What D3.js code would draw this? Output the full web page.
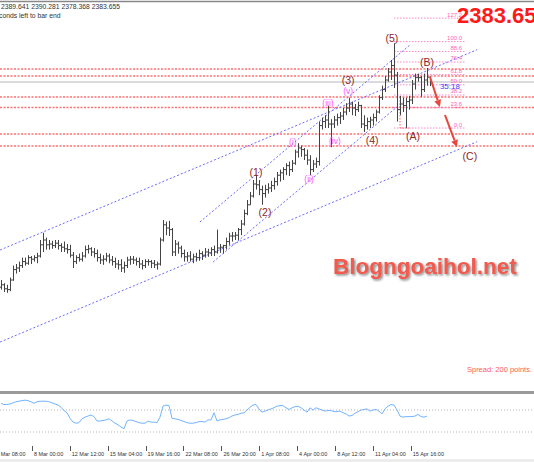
<!DOCTYPE html>
<html>
<head>
<meta charset="utf-8">
<script src="https://cdn.jsdelivr.net/npm/d3@7"></script>
<style>
  body { margin: 0; background: #fff; }
  svg { display: block; font-family: "Liberation Sans", Arial, sans-serif; }
</style>
</head>
<body>
<div id="chart"></div>
<script>
// XAUUSD H4 with elliott wave count


var firstOpen = 2127;

var highs = [
  2136,2132,2130,2139,2154,2156,2159,2164,2164,2167,
  2166,2167,2170,2186,2195,2189,2186,2185,2186,2186,
  2182,2184,2181,2180,2171,2167,2169,2171,2179,2180,
  2177,2176,2174,2169,2167,2170,2169,2166,2164,2161,
  2162,2159,2165,2166,2166,2164,2164,2161,2162,2162,
  2161,2161,2159,2189,2211,2209,2210,2201,2186,2184,
  2179,2174,2171,2172,2169,2170,2174,2172,2176,2175,
  2177,2179,2199,2181,2180,2189,2195,2196,2196,2201,
  2211,2224,2236,2246,2261,2267,2261,2254,2255,2257,
  2260,2264,2271,2274,2277,2282,2284,2286,2299,2307,
  2304,2301,2299,2292,2286,2289,2334,2339,2342,2354,
  2337,2341,2344,2346,2351,2357,2364,2359,2356,2359,
  2355,2342,2339,2340,2344,2349,2367,2379,2391,2401,
  2411,2432,2396,2366,2364,2364,2366,2386,2394,2394,
  2391,2394,2401,2390.281
];

var lows = [
  2124,2121,2120,2122,2135,2144,2146,2151,2154,2155,
  2156,2159,2157,2164,2171,2174,2174,2175,2176,2174,
  2171,2171,2169,2164,2151,2156,2159,2159,2164,2169,
  2166,2164,2159,2156,2155,2159,2157,2154,2151,2149,
  2146,2145,2151,2155,2156,2154,2151,2149,2151,2154,
  2151,2151,2149,2154,2184,2192,2191,2166,2166,2169,
  2164,2159,2159,2159,2157,2159,2160,2161,2164,2165,
  2166,2166,2169,2170,2169,2174,2180,2184,2186,2186,
  2192,2204,2217,2230,2239,2249,2242,2230,2239,2244,
  2246,2249,2254,2259,2261,2267,2266,2271,2280,2289,
  2290,2286,2280,2267,2271,2276,2279,2324,2326,2326,
  2302,2326,2329,2331,2336,2342,2346,2342,2341,2346,
  2326,2321,2324,2326,2329,2334,2344,2361,2371,2384,
  2386,2376,2334,2342,2346,2326,2349,2356,2374,2384,
  2365,2371,2379,2378.368
];

var closes = [
  2130,2125,2124,2136,2149,2151,2154,2159,2157,2164,
  2162,2164,2166,2180,2186,2180,2181,2179,2182,2179,
  2177,2175,2174,2167,2159,2164,2162,2166,2174,2175,
  2171,2169,2164,2161,2162,2166,2161,2159,2156,2155,
  2151,2154,2161,2162,2161,2159,2156,2154,2159,2159,
  2157,2155,2156,2186,2205,2201,2199,2171,2181,2176,
  2169,2165,2166,2162,2165,2164,2169,2167,2171,2170,
  2174,2171,2176,2177,2179,2184,2191,2191,2192,2199,
  2206,2219,2230,2241,2256,2255,2249,2244,2249,2251,
  2254,2259,2267,2270,2274,2279,2274,2282,2296,2301,
  2299,2292,2286,2274,2281,2284,2329,2334,2336,2331,
  2331,2336,2339,2341,2346,2351,2356,2351,2349,2354,
  2331,2329,2334,2336,2339,2346,2364,2374,2386,2396,
  2404,2392,2349,2356,2354,2359,2361,2381,2389,2389,
  2374,2386,2389.641,2383.655
];

// oscillator (one value per bar, last bar still open)
var oscValues = [
  82,80,80,81,83,85,86,87,88,87,
  85,82,85,86,86,86,85,83,81,79,
  75,69,65,55,48,46,47,54,57,59,
  61,58,50,50,51,52,54,50,46,43,
  39,36,50,52,51,49,47,46,46,50,
  48,48,47,57,77,79,78,55,54,53,
  51,49,47,46,46,47,49,49,48,52,
  52,65,50,52,53,54,56,59,61,62,
  64,65,70,75,79,80,72,66,68,70,
  72,74,77,78,78,74,71,74,76,77,
  74,70,66,74,70,74,72,70,68,69,
  69,67,67,68,65,63,59,60,64,67,
  70,71,72,68,70,71,68,63,72,77,
  80,79,70,59,57,58,58,58,59,62,
  58,57,59
];
var oscLevels = [70, 30];

var tickLabels = ["5 Mar 08:00", "8 Mar 00:00", "12 Mar 12:00", "15 Mar 04:00", "19 Mar 16:00",
  "22 Mar 08:00", "26 Mar 20:00", "1 Apr 08:00", "4 Apr 00:00", "8 Apr 12:00",
  "11 Apr 04:00", "15 Apr 16:00"];
var tickBars = [-2.3, 10.3, 22.9, 35.6, 48.2, 60.8, 73.5, 86.1, 98.7, 111.4, 124, 136.6];

// horizontal support / resistance levels
var srLevels = [2399.75, 2391, 2364.75, 2351.6, 2318.5, 2303.5];

// fibonacci from (5) high to (A) low
var fibLow = 2326, fibHigh = 2434;
var fibRatios = [0, 23.6, 38.2, 50, 61.8, 76.4, 88.6, 100, 127.2];
var fibFrom = 131, fibTo = 153.7;

// channels [bar, price, bar, price]
var channels = [
  [-0.3, 2173.5, 158.7, 2423.9],
  [-0.3, 2058.5, 158.7, 2308.9],
  [66.3, 2208.5, 136.3, 2429.75],
  [70.7, 2158.5, 134.7, 2361]
];

var waveLabels = [
  { t: "(1)", i: 85, p: 2271 },
  { t: "(2)", i: 88, p: 2220 },
  { t: "(3)", i: 115.7, p: 2386 },
  { t: "(4)", i: 123.7, p: 2310 },
  { t: "(5)", i: 130.3, p: 2438 },
  { t: "(A)", i: 137.3, p: 2315 },
  { t: "(B)", i: 142, p: 2408 },
  { t: "(C)", i: 156.3, p: 2291 }
];
var subLabels = [
  { t: "(i)", i: 97.3, p: 2308 },
  { t: "(ii)", i: 102.7, p: 2262 },
  { t: "(iii)", i: 109, p: 2357 },
  { t: "(iv)", i: 111.3, p: 2310 },
  { t: "(v)", i: 115.7, p: 2372 }
];

var arrows = [
  [143, 2389.75, 146.3, 2352.25],
  [148, 2342.25, 152, 2302.25]
];


var W = 534, H = 462;
var svg = d3.select("#chart").append("svg").attr("width", W).attr("height", H);

var x = d3.scaleLinear().domain([0, 143]).range([1, 430]);
var y = d3.scaleLinear().domain([1996, 2486]).range([392, 0]);
var yo = d3.scaleLinear().domain([30, 70]).range([432, 410]);

var defs = svg.append("defs");
defs.append("clipPath").attr("id", "main").append("rect").attr("width", W).attr("height", 391);
defs.append("clipPath").attr("id", "sub").append("rect").attr("y", 395).attr("width", W).attr("height", 50);
var shadow = defs.append("filter").attr("id", "shadow").attr("x", "-5%").attr("y", "-20%")
  .attr("width", "110%").attr("height", "150%");
shadow.append("feDropShadow").attr("dx", 1.5).attr("dy", 1.5).attr("stdDeviation", 0.8)
  .attr("flood-color", "#555").attr("flood-opacity", 0.7);

svg.append("rect").attr("width", W).attr("height", H).attr("fill", "#fff");

var main = svg.append("g").attr("clip-path", "url(#main)");

// S/R lines
main.selectAll(".sr").data(srLevels).enter().append("line")
  .attr("x1", 0).attr("x2", W)
  .attr("y1", function(d) { return y(d); }).attr("y2", function(d) { return y(d); })
  .attr("stroke", "#ff7070").attr("stroke-width", 1.3).attr("stroke-dasharray", "2,1.5");

// bid line
var lastClose = closes[closes.length - 1];
main.append("line").attr("x1", 0).attr("x2", W)
  .attr("y1", y(lastClose)).attr("y2", y(lastClose))
  .attr("stroke", "#cfcfcf").attr("stroke-width", 1.5);

// fibo levels
function fibPrice(r) { return fibLow + (fibHigh - fibLow) * r / 100; }
main.selectAll(".fib").data(fibRatios).enter().append("line")
  .attr("x1", x(fibFrom)).attr("x2", x(fibTo) + 3)
  .attr("y1", function(d) { return y(fibPrice(d)); }).attr("y2", function(d) { return y(fibPrice(d)); })
  .attr("stroke", "#ff88cc").attr("stroke-width", 1).attr("stroke-dasharray", "1.5,1.5");
main.selectAll(".fibt").data(fibRatios).enter().append("text")
  .attr("x", x(fibTo)).attr("y", function(d) { return y(fibPrice(d)) - 1.5; })
  .attr("text-anchor", "end").attr("font-size", 6).attr("fill", "#ff66bb")
  .text(function(d) { return d.toFixed(1); });

// fibo anchor
main.append("path")
  .attr("d", "M" + x(133) + "," + y(srLevels[2]) + "V" + y(fibLow) + "H" + x(136))
  .attr("fill", "none").attr("stroke", "#ff6060").attr("stroke-dasharray", "1.5,1.5");

// channels
main.selectAll(".ch").data(channels).enter().append("line")
  .attr("x1", function(d) { return x(d[0]); }).attr("y1", function(d) { return y(d[1]); })
  .attr("x2", function(d) { return x(d[2]); }).attr("y2", function(d) { return y(d[3]); })
  .attr("stroke", "#6b6bff").attr("stroke-width", 1).attr("stroke-dasharray", "2,2");

// ohlc bars
var bars = closes.map(function(c, i) {
  return { i: i, o: i ? closes[i - 1] : firstOpen, h: highs[i], l: lows[i], c: c };
});
bars[bars.length - 1].o = 2389.641;
var barPath = bars.map(function(d) {
  var cx = Math.round(x(d.i)) + 0.5;
  return "M" + cx + "," + y(d.h) + "V" + y(d.l) +
    "M" + (cx - 1.5) + "," + y(d.o) + "H" + cx +
    "M" + cx + "," + y(d.c) + "H" + (cx + 1.5);
}).join("");
main.append("path").attr("d", barPath).attr("fill", "none")
  .attr("stroke", "#444").attr("stroke-width", 1);

// wave labels
main.selectAll(".wl").data(waveLabels).enter().append("text")
  .attr("x", function(d) { return x(d.i); }).attr("y", function(d) { return y(d.p) + 3.5; })
  .attr("text-anchor", "middle").attr("font-size", 10.5).attr("fill", "#8e2626")
  .text(function(d) { return d.t; });
main.selectAll(".sl").data(subLabels).enter().append("text")
  .attr("x", function(d) { return x(d.i); }).attr("y", function(d) { return y(d.p) + 3; })
  .attr("text-anchor", "middle").attr("font-size", 8.5).attr("fill", "#ff55ff")
  .text(function(d) { return d.t; });

// arrows
arrows.forEach(function(a) {
  var x1 = x(a[0]), y1 = y(a[1]), x2 = x(a[2]), y2 = y(a[3]);
  var ang = Math.atan2(y2 - y1, x2 - x1), len = 7, wd = 3.5;
  var bx = x2 - len * Math.cos(ang), by = y2 - len * Math.sin(ang);
  main.append("line").attr("x1", x1).attr("y1", y1).attr("x2", bx).attr("y2", by)
    .attr("stroke", "#e8453c").attr("stroke-width", 2);
  main.append("path")
    .attr("d", "M" + x2 + "," + y2 +
      "L" + (bx + wd * Math.sin(ang)) + "," + (by - wd * Math.cos(ang)) +
      "L" + (bx - wd * Math.sin(ang)) + "," + (by + wd * Math.cos(ang)) + "Z")
    .attr("fill", "#e8453c");
});

// bar timer
main.append("text").attr("x", x(146.3)).attr("y", y(2378.5) + 3)
  .attr("font-size", 8).attr("fill", "#3b3bff").text("35:18");

// watermark
svg.append("text").attr("x", 333).attr("y", 274)
  .attr("font-size", 22.5).attr("font-weight", "bold").attr("fill", "#f15a4e")
  .attr("filter", "url(#shadow)").text("Blogngoaihol.net");

svg.append("text").attr("x", 532).attr("y", 372).attr("text-anchor", "end")
  .attr("font-size", 7.5).attr("fill", "#ff5a5a").text("Spread: 200 points.");

// header
svg.append("line").attr("x1", 0).attr("x2", W).attr("y1", 1.5).attr("y2", 1.5)
  .attr("stroke", "#888").attr("stroke-width", 1.5);
svg.append("text").attr("x", 1).attr("y", 9).attr("font-size", 6.8).attr("fill", "#333")
  .text([bars[143].o, highs[143], lows[143], lastClose].map(d3.format(".3f")).join(" "));
svg.append("text").attr("x", -1).attr("y", 18).attr("font-size", 6.8).attr("fill", "#333")
  .text("conds left to bar end");
svg.append("text").attr("x", 457).attr("y", 23)
  .attr("font-size", 22).attr("font-weight", "bold").attr("fill", "#ff1a1a")
  .text((Math.floor(lastClose * 100) / 100).toFixed(2));

// separator
svg.append("rect").attr("x", 0).attr("y", 391).attr("width", W).attr("height", 3).attr("fill", "#9a9a9a");

// oscillator
var sub = svg.append("g").attr("clip-path", "url(#sub)");
sub.selectAll(".lvl").data(oscLevels).enter().append("line")
  .attr("x1", 0).attr("x2", W)
  .attr("y1", function(d) { return yo(d); }).attr("y2", function(d) { return yo(d); })
  .attr("stroke", "#b5b5b5").attr("stroke-dasharray", "1,2");
sub.append("path").datum(oscValues)
  .attr("d", d3.line().x(function(d, i) { return x(i); }).y(function(d) { return yo(d); }))
  .attr("fill", "none").attr("stroke", "#74b4ff").attr("stroke-width", 1);

// time axis
var ax = svg.append("g");
ax.selectAll(".tk").data(tickBars).enter().append("line")
  .attr("x1", function(d) { return Math.round(x(d)) + 0.5; })
  .attr("x2", function(d) { return Math.round(x(d)) + 0.5; })
  .attr("y1", 446).attr("y2", 451).attr("stroke", "#555");
ax.selectAll(".tl").data(tickLabels).enter().append("text")
  .attr("x", function(d, i) { return x(tickBars[i]) + 2; }).attr("y", 456)
  .attr("font-size", 5.5).attr("fill", "#333")
  .text(function(d) { return d; });
svg.append("rect").attr("x", 0).attr("y", 459).attr("width", W).attr("height", 3).attr("fill", "#ececec");
</script>
</body>
</html>
